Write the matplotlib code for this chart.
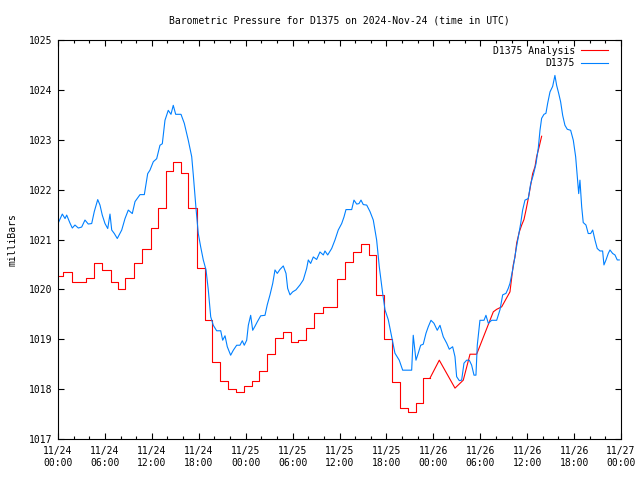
import pandas as pd
import matplotlib
matplotlib.use('Agg')
import matplotlib.pyplot as plt
import matplotlib.dates as mdates

#%% data (hours after 2024-11-24 00:00 UTC, pressure in mbar)
start = pd.Timestamp('2024-11-24 00:00')

obs_hours = [0.0, 0.55, 0.90, 1.11, 1.53, 1.83, 2.17, 2.60, 3.03, 3.45, 3.87, 4.31,
             4.64, 5.08, 5.37, 5.66, 6.01, 6.36, 6.65, 6.87, 7.20, 7.58, 8.15, 8.57,
             8.99, 9.50, 9.85, 10.49, 11.04, 11.47, 11.76, 12.19, 12.62, 13.04, 13.34,
             13.68, 14.10, 14.45, 14.74, 15.05, 15.73, 16.15, 16.66, 17.10, 17.30,
             17.65, 17.94, 18.25, 18.58, 18.93, 19.22, 19.53, 19.86, 20.29, 20.81,
             21.06, 21.36, 21.65, 22.08, 22.42, 22.85, 23.27, 23.57, 23.82, 24.13,
             24.34, 24.64, 24.90, 25.19, 25.49, 25.92, 26.47, 26.76, 27.11, 27.46,
             27.75, 28.04, 28.39, 28.81, 29.16, 29.37, 29.67, 30.01, 30.43, 30.95,
             31.37, 31.80, 32.01, 32.31, 32.65, 33.08, 33.50, 33.93, 34.14, 34.49,
             35.00, 35.42, 35.84, 36.28, 36.57, 36.83, 37.56, 37.85, 38.20, 38.49,
             38.75, 39.04, 39.48, 39.90, 40.32, 40.75, 41.09, 41.52, 41.82, 42.24,
             42.67, 43.09, 43.64, 44.08, 45.23, 45.43, 45.78, 46.07, 46.38, 46.71,
             47.06, 47.35, 47.70, 48.08, 48.50, 48.85, 49.27, 49.71, 50.04, 50.47,
             50.77, 50.98, 51.32, 51.62, 51.92, 52.26, 52.60, 52.90, 53.20, 53.45,
             53.62, 53.96, 54.48, 54.73, 55.03, 55.46, 56.10, 56.52, 56.87, 57.29,
             57.58, 57.80, 58.22, 58.57, 58.86, 59.17, 59.42, 59.72, 60.14, 60.45,
             60.78, 61.13, 61.42, 61.64, 61.85, 62.15, 62.40, 62.62, 62.92, 63.26,
             63.55, 63.77, 64.03, 64.28, 64.54, 64.83, 65.13, 65.56, 65.90, 66.20,
             66.41, 66.59, 66.75, 66.97, 67.17, 67.52, 67.81, 68.12, 68.38, 68.67,
             68.96, 69.31, 69.65, 69.82, 70.08, 70.37, 70.59, 70.93, 71.23, 71.52,
             71.78]
obs_mbar = [1021.32, 1021.51, 1021.42, 1021.49, 1021.33, 1021.23, 1021.29, 1021.23,
            1021.25, 1021.39, 1021.31, 1021.32, 1021.56, 1021.80, 1021.69, 1021.49,
            1021.32, 1021.22, 1021.51, 1021.19, 1021.12, 1021.02, 1021.19, 1021.42,
            1021.59, 1021.52, 1021.76, 1021.90, 1021.90, 1022.32, 1022.39, 1022.56,
            1022.62, 1022.89, 1022.92, 1023.39, 1023.59, 1023.51, 1023.69, 1023.51,
            1023.51, 1023.33, 1022.99, 1022.66, 1022.30, 1021.62, 1021.12, 1020.85,
            1020.59, 1020.39, 1019.99, 1019.45, 1019.28, 1019.17, 1019.17, 1018.98,
            1019.07, 1018.85, 1018.68, 1018.78, 1018.88, 1018.88, 1018.97, 1018.88,
            1018.98, 1019.28, 1019.48, 1019.18, 1019.26, 1019.35, 1019.47, 1019.48,
            1019.69, 1019.89, 1020.12, 1020.39, 1020.32, 1020.40, 1020.47, 1020.32,
            1020.02, 1019.89, 1019.95, 1019.99, 1020.09, 1020.19, 1020.42, 1020.59,
            1020.52, 1020.65, 1020.60, 1020.75, 1020.69, 1020.77, 1020.69, 1020.82,
            1020.99, 1021.19, 1021.32, 1021.45, 1021.60, 1021.60, 1021.79, 1021.71,
            1021.72, 1021.79, 1021.70, 1021.69, 1021.56, 1021.39, 1020.99, 1020.45,
            1019.92, 1019.59, 1019.39, 1019.05, 1018.72, 1018.58, 1018.38, 1018.38,
            1019.08, 1018.58, 1018.72, 1018.88, 1018.90, 1019.12, 1019.25, 1019.38,
            1019.32, 1019.18, 1019.28, 1019.05, 1018.92, 1018.80, 1018.85, 1018.65,
            1018.25, 1018.17, 1018.18, 1018.52, 1018.58, 1018.58, 1018.48, 1018.28,
            1018.28, 1018.88, 1019.38, 1019.38, 1019.48, 1019.32, 1019.38, 1019.38,
            1019.59, 1019.89, 1019.92, 1020.02, 1020.12, 1020.45, 1020.79, 1021.05,
            1021.32, 1021.59, 1021.79, 1021.82, 1022.12, 1022.29, 1022.52, 1022.83,
            1023.19, 1023.43, 1023.51, 1023.53, 1023.73, 1023.96, 1024.07, 1024.29,
            1024.09, 1023.93, 1023.76, 1023.49, 1023.29, 1023.21, 1023.19, 1022.99,
            1022.66, 1022.26, 1021.92, 1022.19, 1021.66, 1021.34, 1021.29, 1021.12,
            1021.12, 1021.19, 1020.99, 1020.82, 1020.77, 1020.77, 1020.49, 1020.59,
            1020.72, 1020.79, 1020.72, 1020.69, 1020.59, 1020.59]

# analysis: hourly steps first, then a finer line
ana_step_hours = [0.0, 0.68, 1.75, 3.58, 4.65, 5.67, 6.78, 7.72, 8.57, 9.76, 10.78,
                  11.89, 12.83, 13.81, 14.66, 15.73, 16.67, 17.74, 18.80, 19.65, 20.72,
                  21.70, 22.72, 23.79, 24.77, 25.74, 26.77, 27.75, 28.81, 29.80, 30.73,
                  31.71, 32.74, 33.85, 35.72, 36.70, 37.76, 38.75, 39.77, 40.66, 41.73,
                  42.67, 43.73, 44.80, 45.78, 46.71, 47.57]
ana_step_mbar = [1020.27, 1020.35, 1020.14, 1020.22, 1020.52, 1020.39, 1020.14, 1020.00,
                 1020.22, 1020.52, 1020.80, 1021.24, 1021.64, 1022.37, 1022.56, 1022.34,
                 1021.64, 1020.42, 1019.38, 1018.55, 1018.16, 1018.00, 1017.94, 1018.07,
                 1018.16, 1018.37, 1018.70, 1019.02, 1019.14, 1018.94, 1018.98, 1019.22,
                 1019.53, 1019.65, 1020.20, 1020.54, 1020.74, 1020.90, 1020.69, 1019.89,
                 1019.00, 1018.15, 1017.63, 1017.54, 1017.72, 1018.22, 1018.22]
ana_tail_hours = [47.57, 48.76, 50.77, 51.83, 52.69, 53.54, 55.67, 56.10, 56.74, 57.80,
                  58.22, 58.44, 58.66, 58.99, 59.30, 59.59, 59.85, 60.14, 60.45, 60.70,
                  61.00, 61.21, 61.55, 61.85]
ana_tail_mbar = [1018.22, 1018.58, 1018.02, 1018.18, 1018.70, 1018.70, 1019.55, 1019.60,
                 1019.65, 1019.95, 1020.49, 1020.65, 1020.93, 1021.15, 1021.29, 1021.40,
                 1021.59, 1021.82, 1022.09, 1022.32, 1022.46, 1022.66, 1022.87, 1023.07]

#%% plot
plt.rcParams['font.family'] = 'DejaVu Sans Mono'
plt.rcParams['font.size'] = 7

def to_time(hours):
    return start + pd.to_timedelta(hours, unit='h')

red = '#ff0000'
blue = '#0080ff'

fig = plt.figure(figsize=(6.4, 4.8), dpi=100)
ax = fig.add_axes([58/640, 1 - 439/480, (621-58)/640, (439-40)/480])

ax.plot(to_time(ana_step_hours), ana_step_mbar, color=red, lw=0.8,
        drawstyle='steps-post', label='D1375 Analysis')
ax.plot(to_time(ana_tail_hours), ana_tail_mbar, color=red, lw=0.8)
ax.plot(to_time(obs_hours), obs_mbar, color=blue, lw=0.8, label='D1375')

ax.set_xlim(start, start + pd.Timedelta(hours=72))
ax.set_ylim(1017, 1025)
ax.set_yticks(range(1017, 1026))

ax.xaxis.set_major_locator(mdates.HourLocator(byhour=range(0, 24, 6)))
ax.xaxis.set_minor_locator(mdates.HourLocator(byhour=range(0, 24, 2)))
ax.xaxis.set_major_formatter(mdates.DateFormatter('%m/%d\n%H:%M'))

ax.tick_params(which='both', direction='in', top=True, right=True, width=0.8, labelsize=7)
ax.tick_params(which='major', length=4.5, pad=4)
ax.tick_params(which='minor', length=2.5)
ax.tick_params(axis='x', pad=5)
for sp in ax.spines.values():
    sp.set_linewidth(0.8)

ax.set_title('Barometric Pressure for D1375 on 2024-Nov-24 (time in UTC)', fontsize=7, pad=12)
ax.set_ylabel('milliBars', fontsize=7, labelpad=8)

ax.legend(loc='upper right', bbox_to_anchor=(0.986, 0.998), frameon=False,
          markerfirst=False, fontsize=7, handlelength=2.8, handletextpad=0.6,
          labelspacing=0.25, borderaxespad=0.3, borderpad=0.2)

fig.savefig('out.png', dpi=100)
